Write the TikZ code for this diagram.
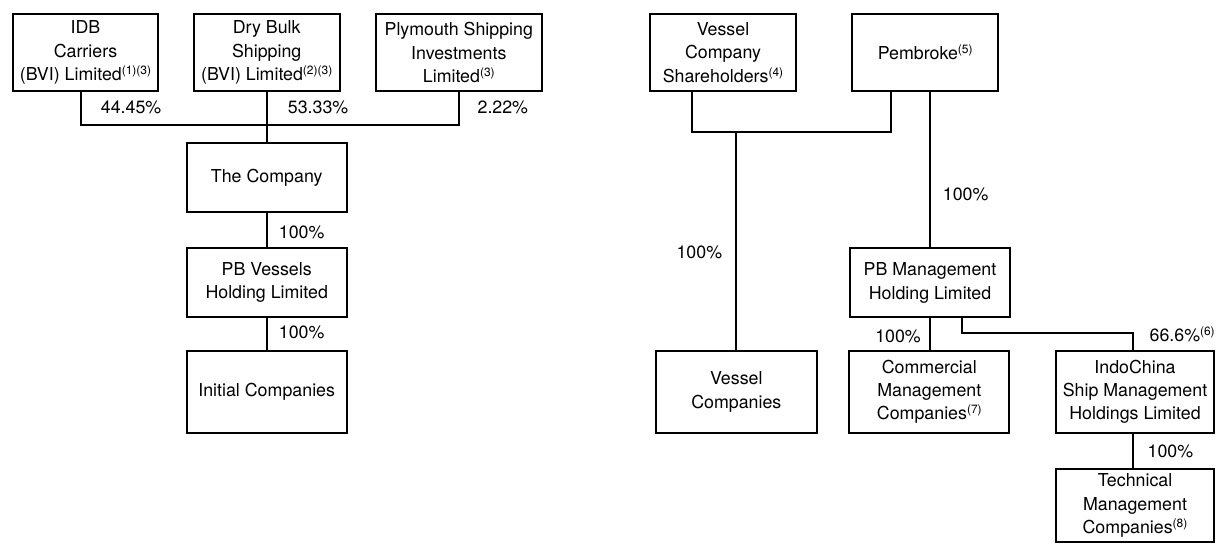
\documentclass[tikz,border=0pt]{standalone}
\usepackage{fontspec}
\setmainfont{TeX Gyre Heros}
\newcommand{\fnref}[1]{\raisebox{6pt}{\fontsize{12}{12}\selectfont(#1)}}
\begin{document}
\begin{tikzpicture}[x=1pt, y=-1pt, line width=1.8pt, font=\fontsize{17.8}{23.3}\selectfont,
	box/.style={draw, line width=2pt, align=center, inner sep=0pt, minimum width=160pt, minimum height=81.7pt},
	pct/.style={inner sep=0pt}]
		\useasboundingbox (0,0) rectangle (1216,544);
		% shareholders and the company
		\node[box, minimum width=145.6pt, minimum height=76.4pt] (idb) at (85.5,52.5) {IDB\\Carriers\\(BVI) Limited\fnref{1}\fnref{3}};
		\node[box, minimum width=145.6pt, minimum height=76.4pt] (dry) at (266.7,52.5) {Dry Bulk\\Shipping\\(BVI) Limited\fnref{2}\fnref{3}};
		\node[box, minimum width=165.7pt, minimum height=76.4pt] (ply) at (458.8,52.5) {Plymouth Shipping\\Investments\\Limited\fnref{3}};
		\node[box, minimum height=68.4pt] (comp) at (266.7,177.5) {The Company};
		\node[box, minimum height=69pt] (pbv) at (266.7,282.2) {PB Vessels\\Holding Limited};
		\node[box] (init) at (266.7,391.8) {Initial Companies};
		\coordinate (busA) at (0,125);
		\draw ([xshift=-4.5pt]idb.south) |- (ply.south |- busA) -- (ply.south);
		\draw (dry.south) -- (comp.north);
		\draw (comp.south) -- (pbv.north);
		\draw (pbv.south) -- (init.north);
		\node[pct, anchor=base west] (pa) at (100,113) {44.45\%};
		\node[pct, anchor=base west] (pb) at (287,113) {53.33\%};
		\node[pct, anchor=base west] (pc) at (476.7,113) {2.22\%};
		\node[pct, anchor=base west] (pd) at (278,238) {100\%};
		\node[pct, anchor=base west] (pe) at (278,338) {100\%};
		% vessel and management side
		\node[box, minimum width=146pt, minimum height=76.4pt] (vcs) at (723,52.5) {Vessel\\Company\\Shareholders\fnref{4}};
		\node[box, minimum width=146.3pt, minimum height=76.4pt] (pem) at (925.2,52.5) {Pembroke\fnref{5}};
		\node[box, minimum height=69pt] (pbm) at (930,282.8) {PB Management\\Holding Limited};
		\node[box, minimum width=160.7pt] (vco) at (736.3,391.8) {Vessel\\Companies};
		\node[box] (com) at (929.3,391.8) {Commercial\\Management\\Companies\fnref{7}};
		\node[box, minimum width=158pt] (ind) at (1135,391.8) {IndoChina\\Ship Management\\Holdings Limited};
		\node[box, minimum width=158pt, minimum height=72.7pt] (tec) at (1135,505.6) {Technical\\Management\\Companies\fnref{8}};
		\coordinate (busB) at (0,132.3);
		\draw ([xshift=-30.7pt]vcs.south) |- ([xshift=-34.2pt]pem.south |- busB) -- ([xshift=-34.2pt]pem.south);
		\draw (vco.north) -- (vco.north |- busB);
		\draw (pbm.north) -- (pbm.north |- pem.south);
		\draw (pbm.south) -- (pbm.south |- com.north);
		\draw ([xshift=31.7pt]pbm.south) |- ([xshift=-2.3pt, yshift=16.7pt]ind.north) -- ([xshift=-2.3pt]ind.north);
		\draw ([xshift=-2pt]ind.south) -- ([xshift=-2pt]tec.north);
		\node[pct, anchor=base east] (pf) at (723,258) {100\%};
		\node[pct, anchor=base west] (pg) at (942,200) {100\%};
		\node[pct, anchor=base east] (ph) at (921.7,342) {100\%};
		\node[pct, anchor=base west] (pi) at (1148.7,341.7) {66.6\%\fnref{6}};
		\node[pct, anchor=base west] (pj) at (1146.7,457) {100\%};
\end{tikzpicture}
\end{document}
